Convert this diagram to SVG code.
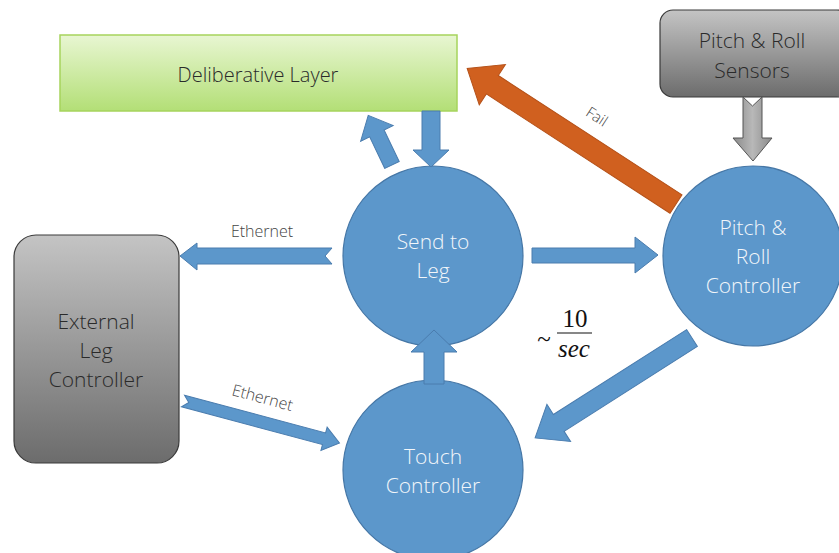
<svg xmlns="http://www.w3.org/2000/svg" width="839" height="553" viewBox="0 0 839 553">
<defs>
<linearGradient id="gGreen" x1="0" y1="0" x2="0" y2="1"><stop offset="0" stop-color="#e8f6d2"/><stop offset="1" stop-color="#b3df76"/></linearGradient>
<linearGradient id="gGray" x1="0" y1="0" x2="0" y2="1"><stop offset="0" stop-color="#c4c4c4"/><stop offset="1" stop-color="#6c6c6c"/></linearGradient>
<linearGradient id="gGrayArrow" x1="0" y1="0" x2="1" y2="0"><stop offset="0" stop-color="#8a8a8a"/><stop offset="0.5" stop-color="#b8b8b8"/><stop offset="1" stop-color="#8a8a8a"/></linearGradient>
<style>
.circ{fill:#5c97cb;stroke:#4677a6;stroke-width:1.2}
.ctext{font-family:"Open Sans","Noto Sans",sans-serif;font-weight:300;font-size:21px;fill:#f2f6fa;text-anchor:middle}
.btext{font-family:"Open Sans","Noto Sans",sans-serif;font-weight:300;font-size:21px;fill:#2a2a2a;text-anchor:middle}
.arr{fill:#5c97cb;stroke:#4a7cae;stroke-width:1}
.lbl{font-family:"Open Sans","Noto Sans",sans-serif;font-weight:300;font-size:16px;fill:#444;text-anchor:middle}
.math{font-family:"Liberation Serif","DejaVu Serif",serif;font-size:25px;fill:#111;text-anchor:middle}
</style>
</defs>
<g id="deliberative-layer">
<rect x="60" y="35" width="397" height="76" fill="url(#gGreen)" stroke="#a6d45c" stroke-width="1.5"/>
<text class="btext" x="258" y="82" style="font-size:20px">Deliberative Layer</text>
</g>
<g id="pitch-roll-sensors">
<rect x="660" y="10" width="190" height="87" rx="13" fill="url(#gGray)" stroke="#3a3a3a" stroke-width="1.2"/>
<text class="btext" x="752" y="48">Pitch &amp; Roll</text>
<text class="btext" x="752" y="78">Sensors</text>
</g>
<g id="external-leg-controller">
<rect x="14" y="235" width="165" height="228" rx="22" fill="url(#gGray)" stroke="#3a3a3a" stroke-width="1.2"/>
<text class="btext" x="96" y="329">External</text>
<text class="btext" x="96" y="358">Leg</text>
<text class="btext" x="96" y="387">Controller</text>
</g>
<g id="send-to-leg">
<circle class="circ" cx="433" cy="256" r="90"/>
<text class="ctext" x="433" y="249">Send to</text>
<text class="ctext" x="433" y="278">Leg</text>
</g>
<g id="pitch-roll-controller">
<circle class="circ" cx="753" cy="256" r="90"/>
<text class="ctext" x="753" y="235">Pitch &amp;</text>
<text class="ctext" x="753" y="264">Roll</text>
<text class="ctext" x="753" y="293">Controller</text>
</g>
<g id="touch-controller">
<circle class="circ" cx="433" cy="470" r="90"/>
<text class="ctext" x="433" y="464">Touch</text>
<text class="ctext" x="433" y="493">Controller</text>
</g>
<g id="connectors">
<polygon class="arr" transform="translate(392,165) rotate(-115.6)" points="0,-8 35,-8 35,-18 55,0 35,18 35,8 0,8"/>
<polygon class="arr" points="422,111 440,111 440,150 449,150 431,167 413,150 422,150"/>
<polygon transform="translate(676,204) rotate(-147)" points="0,-11 219,-11 219,-24 249,0 219,24 219,11 0,11" fill="#d0601f" stroke="#b5521a" stroke-width="1"/>
<text class="lbl" transform="translate(594,121) rotate(33)" style="font-size:15px">Fail</text>
<polygon class="arr" points="532,248 635,248 635,237 658,255 635,273 635,263 532,263"/>
<polygon class="arr" points="332,248 197,248 197,243 180,256 197,270 197,264 332,264 325,256"/>
<text class="lbl" x="262" y="237">Ethernet</text>
<polygon class="arr" transform="translate(183,401) rotate(15)" points="0,-6 146,-6 146,-12 162,0 146,12 146,6 0,6 6,0"/>
<text class="lbl" transform="translate(261,403) rotate(15)">Ethernet</text>
<polygon class="arr" points="424,384 444,384 444,352 457,352 434,330 411,352 424,352"/>
<polygon class="arr" transform="translate(692,338) rotate(147.5)" points="0,-10 158,-10 158,-22 186,0 158,22 158,10 0,10"/>
<polygon points="743,97 752.5,106 762,97 762,138 772,138 753,161 733,138 743,138" fill="url(#gGrayArrow)" stroke="#555" stroke-width="1"/>
</g>
<g id="rate-label">
<text class="math" x="544" y="347">~</text>
<text class="math" x="575" y="327">10</text>
<line x1="557" y1="333" x2="592" y2="333" stroke="#111" stroke-width="1.2"/>
<text class="math" x="574" y="357" style="font-style:italic">sec</text>
</g>
</svg>
